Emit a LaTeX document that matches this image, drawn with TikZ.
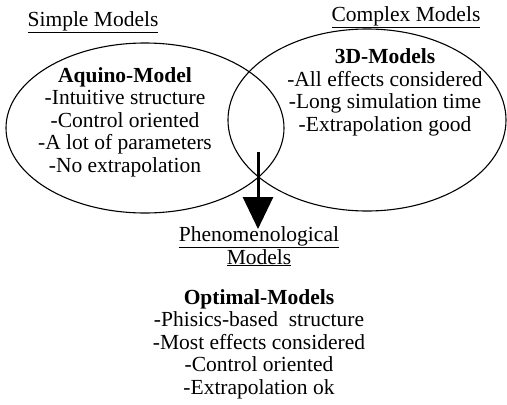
\documentclass[tikz,border=0pt]{standalone}
\usepackage{fontspec}
\setmainfont{Liberation Serif}
\usetikzlibrary{arrows.meta,shapes.geometric}
\tikzset{
  modelset/.style={ellipse, draw, line width=1.1pt, inner sep=0pt,
    minimum width=278pt, minimum height=#1},
  modelset/.default={170pt},
  heading/.style={font=\fontsize{21.5}{22.5}\selectfont, inner sep=0pt, anchor=base},
  modeltext/.style={font=\fontsize{21.5}{22.5}\selectfont, align=center,
    inner sep=0pt, anchor=base},
  moveto/.style={line width=3pt, -{Triangle[length=32pt,width=30pt]}},
}

\begin{document}
\begin{tikzpicture}[x=1pt,y=-1pt]
\useasboundingbox (0,0) rectangle (507,405);
% the two model families
\node[modelset] (simple) at (145,128) {};
\node[modelset=182pt] (complex) at (367,120) {};
\node[heading] (simplehead) at (93,26) {\underline{Simple Models}};
\node[heading] (complexhead) at (406,21) {\underline{Complex Models}};

% anchored on the last line
\node[modeltext] (aquino) at (125,172) {\textbf{Aquino-Model}\\-Intuitive structure\\-Control oriented\\-A lot of parameters\\-No extrapolation};
\node[modeltext] (threed) at (385,131) {\textbf{3D-Models}\\-All effects considered\\-Long simulation time\\-Extrapolation good};

% what lies in between
\coordinate (drop) at (258,152);
\coordinate (landing) at (258,229);
\draw[moveto] (drop) -- (landing);

\node[modeltext] (phenhead) at (259,264) {\underline{Phenomenological}\\\underline{Models}};
\node[modeltext] (optimal) at (259,394) {\textbf{Optimal-Models}\\-Phisics-based\ \ structure\\-Most effects considered\\-Control oriented\\-Extrapolation ok};
\end{tikzpicture}
\end{document}
